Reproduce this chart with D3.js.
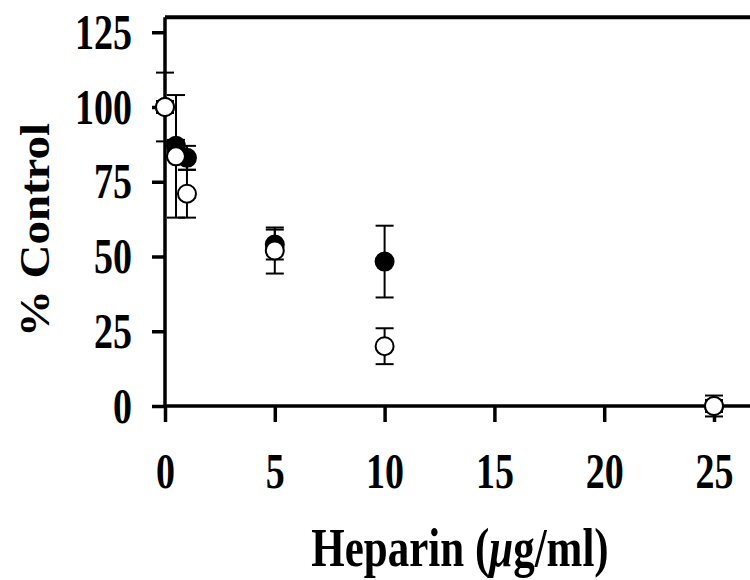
<!DOCTYPE html>
<html>
<head>
<meta charset="utf-8">
<script src="https://cdn.jsdelivr.net/npm/d3@7.9.0/dist/d3.min.js"></script>
<style>
  html, body { margin: 0; padding: 0; background: #fff; }
  svg { display: block; overflow: hidden; }
  text { font-family: "Liberation Serif", "Times New Roman", serif; font-weight: bold; fill: #000; }
</style>
</head>
<body>
<div id="chart"></div>
<script>
// heparin dose (ug/ml)
const doses = [0, 0.5, 1, 5, 10, 25];

// filled circles: mean and error
const filledMean = [100, 87, 83, 54, 48.3, 0];
const filledErr  = [2, 2, 4, 5, 12, 2];

// open circles: mean and error
const openMean = [100, 83.5, 71, 52, 20, 0];
const openErr  = [11.5, 20.5, 8, 7.7, 6, 3.5];

const xTicks = [0, 5, 10, 15, 20, 25];
const yTicks = [0, 25, 50, 75, 100, 125];

const width = 750;
const height = 580;

const svg = d3.select('#chart')
  .append('svg')
  .attr('width', width)
  .attr('height', height);

const xScale = d3.scaleLinear()
  .domain([0, 27])
  .range([165, 165 + 27 * 21.96]);

const yScale = d3.scaleLinear()
  .domain([0, 130])
  .range([406, 17.3]);

// top border
svg.append('line')
  .attr('x1', xScale(0)).attr('x2', width)
  .attr('y1', yScale(130)).attr('y2', yScale(130))
  .attr('stroke', '#000')
  .attr('stroke-width', 4);

// axes
const xAxis = d3.axisBottom(xScale)
  .tickValues(xTicks)
  .tickSize(16)
  .tickSizeOuter(0);

const yAxis = d3.axisLeft(yScale)
  .tickValues(yTicks)
  .tickSize(13)
  .tickSizeOuter(0);

const gx = svg.append('g')
  .attr('transform', `translate(0, ${yScale(0)})`)
  .call(xAxis);

const gy = svg.append('g')
  .attr('transform', `translate(${xScale(0)}, 0)`)
  .call(yAxis);

[gx, gy].forEach(g => {
  g.select('.domain').attr('stroke', '#000').attr('stroke-width', 3.5);
  g.selectAll('.tick line').attr('stroke', '#000').attr('stroke-width', 3.5);
  g.selectAll('.tick text')
    .attr('fill', '#000')
    .style('font-size', '38px');
});
gx.select('.domain').attr('d', `M${xScale(0)},0H${width + 10}`);
gy.select('.domain').attr('d', `M0,${yScale(0)}V${yScale(130)}`);

gx.selectAll('.tick text')
  .attr('y', 0).attr('dy', 0)
  .attr('transform', 'translate(0, 82) scale(1, 1.34)');

gy.selectAll('.tick text')
  .attr('x', 0).attr('dy', 0)
  .attr('text-anchor', 'end')
  .attr('transform', 'translate(-33, 16) scale(1, 1.34)');

// error bars + markers
function drawSeries(means, errs, filled) {
  const g = svg.append('g');
  const pts = doses.map((d, i) => ({ x: d, y: means[i], e: errs[i] }));
  const capW = 9;

  const bars = g.selectAll('g.err')
    .data(pts)
    .join('g')
    .attr('class', 'err')
    .attr('stroke', '#000')
    .attr('stroke-width', 2);

  bars.append('line')
    .attr('x1', d => xScale(d.x)).attr('x2', d => xScale(d.x))
    .attr('y1', d => yScale(d.y - d.e)).attr('y2', d => yScale(d.y + d.e));
  bars.append('line')
    .attr('x1', d => xScale(d.x) - capW).attr('x2', d => xScale(d.x) + capW)
    .attr('y1', d => yScale(d.y + d.e)).attr('y2', d => yScale(d.y + d.e));
  bars.append('line')
    .attr('x1', d => xScale(d.x) - capW).attr('x2', d => xScale(d.x) + capW)
    .attr('y1', d => yScale(d.y - d.e)).attr('y2', d => yScale(d.y - d.e));

  g.selectAll('circle')
    .data(pts)
    .join('circle')
    .attr('cx', d => xScale(d.x))
    .attr('cy', d => yScale(d.y))
    .attr('r', 9)
    .attr('fill', filled ? '#000' : '#fff')
    .attr('stroke', '#000')
    .attr('stroke-width', 2);
}

drawSeries(filledMean, filledErr, true);
drawSeries(openMean, openErr, false);

// axis titles
const xt = svg.append('text')
  .attr('text-anchor', 'middle')
  .attr('transform', 'translate(460, 566) scale(1, 1.3)')
  .style('font-size', '43px');
xt.append('tspan').text('Heparin (');
xt.append('tspan').style('font-style', 'italic').text('\u03bc');
xt.append('tspan').text('g/ml)');

svg.append('text')
  .attr('text-anchor', 'middle')
  .attr('transform', 'translate(49, 230) rotate(-90) scale(1.09, 1)')
  .style('font-size', '43px')
  .text('% Control');
</script>
</body>
</html>
